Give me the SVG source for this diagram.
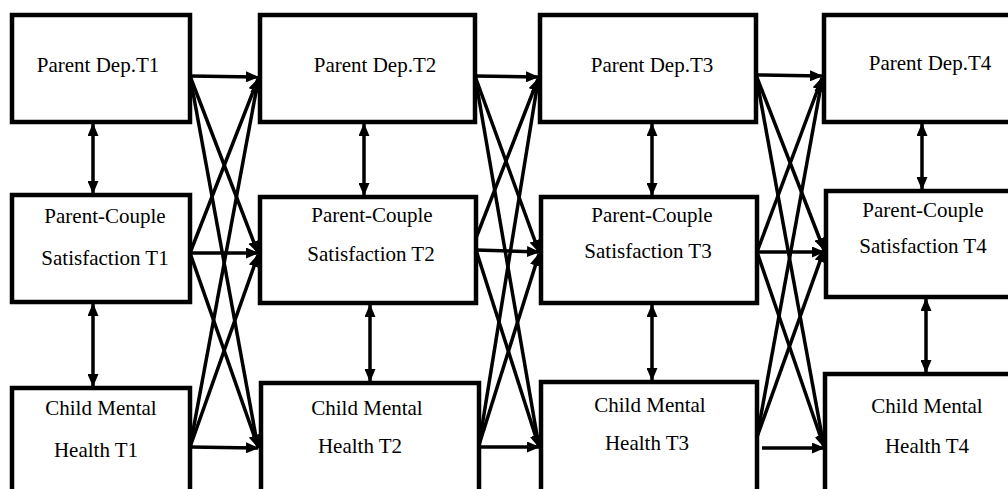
<svg xmlns="http://www.w3.org/2000/svg" width="1008" height="489" viewBox="0 0 1008 489">
<style>
.box{fill:#fff;stroke:#000;stroke-width:4.5}
.lbl{font-family:"Liberation Serif","Times New Roman",serif;font-size:21px;fill:#000;text-anchor:middle}
.c{stroke:#000;stroke-width:3.5;fill:none;marker-end:url(#ah)}
.d{stroke:#000;stroke-width:3.5;fill:none;marker-end:url(#ah);marker-start:url(#ah)}
</style>
<defs>
<marker id="ah" markerUnits="userSpaceOnUse" markerWidth="13" markerHeight="11" refX="12" refY="5.5" orient="auto-start-reverse" viewBox="0 0 13 11">
<path d="M0,0 L13,5.5 L0,11 z" fill="#000"/>
</marker>
</defs>
<rect width="1008" height="489" fill="#fff"/>
<g id="connectors">
<line class="c" x1="190" y1="76" x2="258" y2="77"/>
<line class="c" x1="190" y1="76" x2="258" y2="253"/>
<line class="c" x1="190" y1="76" x2="258" y2="448"/>
<line class="c" x1="190" y1="253" x2="258" y2="79"/>
<line class="c" x1="190" y1="253" x2="258" y2="253"/>
<line class="c" x1="190" y1="253" x2="258" y2="447"/>
<line class="c" x1="190" y1="447" x2="258" y2="81"/>
<line class="c" x1="190" y1="447" x2="258" y2="255"/>
<line class="c" x1="190" y1="447" x2="258" y2="448"/>
<line class="c" x1="475" y1="76" x2="538" y2="77"/>
<line class="c" x1="475" y1="76" x2="539" y2="252"/>
<line class="c" x1="475" y1="76" x2="539" y2="447"/>
<line class="c" x1="476" y1="238" x2="538" y2="79"/>
<line class="c" x1="476" y1="250" x2="539" y2="252"/>
<line class="c" x1="476" y1="250" x2="539" y2="447"/>
<line class="c" x1="479" y1="445" x2="538" y2="81"/>
<line class="c" x1="479" y1="445" x2="539" y2="254"/>
<line class="c" x1="479" y1="447" x2="539" y2="447"/>
<line class="c" x1="756" y1="75" x2="822" y2="76"/>
<line class="c" x1="756" y1="75" x2="824" y2="250"/>
<line class="c" x1="756" y1="75" x2="824" y2="447"/>
<line class="c" x1="757" y1="252" x2="822" y2="78"/>
<line class="c" x1="757" y1="252" x2="824" y2="252"/>
<line class="c" x1="757" y1="252" x2="824" y2="447"/>
<line class="c" x1="757" y1="437" x2="822" y2="80"/>
<line class="c" x1="757" y1="437" x2="824" y2="250"/>
<line class="c" x1="762" y1="448" x2="824" y2="448"/>
<line class="d" x1="93" y1="124" x2="93" y2="193"/>
<line class="d" x1="93" y1="304" x2="93" y2="386"/>
<line class="d" x1="364" y1="124" x2="364" y2="195"/>
<line class="d" x1="370" y1="305" x2="370" y2="381"/>
<line class="d" x1="652" y1="124" x2="652" y2="195"/>
<line class="d" x1="652" y1="305" x2="652" y2="380"/>
<line class="d" x1="922" y1="124" x2="922" y2="189"/>
<line class="d" x1="926" y1="299" x2="926" y2="372"/>
</g>
<g id="pd1"><rect class="box" x="12" y="15" width="178" height="107"/><text class="lbl" x="98" y="72">Parent Dep.T1</text></g>
<g id="pc1"><rect class="box" x="12" y="195" width="178" height="107"/><text class="lbl" x="105" y="223">Parent-Couple</text><text class="lbl" x="105" y="265">Satisfaction T1</text></g>
<g id="cm1"><rect class="box" x="12" y="388" width="178" height="120"/><text class="lbl" x="101" y="415">Child Mental</text><text class="lbl" x="96" y="457">Health T1</text></g>
<g id="pd2"><rect class="box" x="260" y="15" width="215" height="107"/><text class="lbl" x="375" y="72">Parent Dep.T2</text></g>
<g id="pc2"><rect class="box" x="260" y="197" width="216" height="106"/><text class="lbl" x="372" y="222">Parent-Couple</text><text class="lbl" x="371" y="261">Satisfaction T2</text></g>
<g id="cm2"><rect class="box" x="261" y="383" width="218" height="120"/><text class="lbl" x="367" y="415">Child Mental</text><text class="lbl" x="360" y="453">Health T2</text></g>
<g id="pd3"><rect class="box" x="540" y="15" width="216" height="107"/><text class="lbl" x="652" y="72">Parent Dep.T3</text></g>
<g id="pc3"><rect class="box" x="541" y="197" width="216" height="106"/><text class="lbl" x="652" y="222">Parent-Couple</text><text class="lbl" x="648" y="258">Satisfaction T3</text></g>
<g id="cm3"><rect class="box" x="541" y="382" width="216" height="120"/><text class="lbl" x="650" y="412">Child Mental</text><text class="lbl" x="647" y="450">Health T3</text></g>
<g id="pd4"><rect class="box" x="824" y="15" width="200" height="107"/><text class="lbl" x="930" y="70">Parent Dep.T4</text></g>
<g id="pc4"><rect class="box" x="826" y="191" width="200" height="106"/><text class="lbl" x="923" y="217">Parent-Couple</text><text class="lbl" x="923" y="253">Satisfaction T4</text></g>
<g id="cm4"><rect class="box" x="825" y="374" width="200" height="130"/><text class="lbl" x="927" y="413">Child Mental</text><text class="lbl" x="927" y="453">Health T4</text></g>
</svg>
